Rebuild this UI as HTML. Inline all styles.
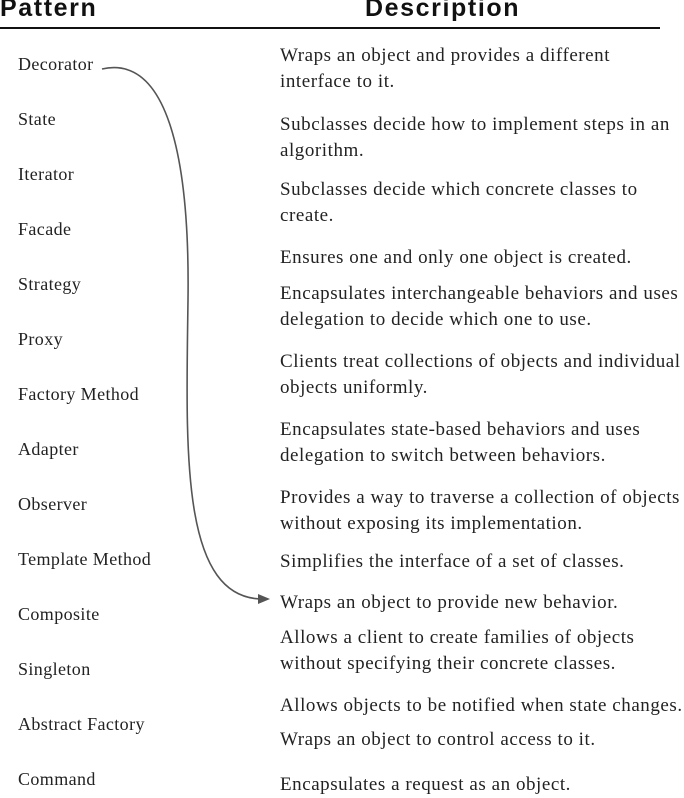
<!DOCTYPE html>
<html>
<head>
<meta charset="utf-8">
<style>
  html,body{margin:0;padding:0;background:#fff;}
  body{width:684px;height:796px;position:relative;overflow:hidden;font-family:"Liberation Serif",serif;color:#222;}
  .hdr{position:absolute;top:-6px;font-family:"Liberation Sans",sans-serif;font-weight:bold;font-size:25px;letter-spacing:1.6px;color:#111;}
  .rule{position:absolute;left:0;top:27px;width:660px;height:2px;background:#111;}
  .pat{position:absolute;left:18px;font-size:18px;line-height:20px;letter-spacing:0.4px;}
  .desc{position:absolute;left:280px;font-size:19px;line-height:26px;white-space:nowrap;letter-spacing:0.55px;}
  svg{position:absolute;left:0;top:0;}
</style>
</head>
<body>
<div class="hdr" style="left:0">Pattern</div>
<div class="hdr" style="left:365px">Description</div>
<div class="rule"></div>

<div class="pat" style="top:54px">Decorator</div>
<div class="pat" style="top:109px">State</div>
<div class="pat" style="top:164px">Iterator</div>
<div class="pat" style="top:219px">Facade</div>
<div class="pat" style="top:274px">Strategy</div>
<div class="pat" style="top:329px">Proxy</div>
<div class="pat" style="top:384px">Factory Method</div>
<div class="pat" style="top:439px">Adapter</div>
<div class="pat" style="top:494px">Observer</div>
<div class="pat" style="top:549px">Template Method</div>
<div class="pat" style="top:604px">Composite</div>
<div class="pat" style="top:659px">Singleton</div>
<div class="pat" style="top:714px">Abstract Factory</div>
<div class="pat" style="top:769px">Command</div>

<div class="desc" style="top:43px">Wraps an object and provides a different<br>interface to it.</div>
<div class="desc" style="top:112px">Subclasses decide how to implement steps in an<br>algorithm.</div>
<div class="desc" style="top:177px">Subclasses decide which concrete classes to<br>create.</div>
<div class="desc" style="top:245px">Ensures one and only one object is created.</div>
<div class="desc" style="top:281px">Encapsulates interchangeable behaviors and uses<br>delegation to decide which one to use.</div>
<div class="desc" style="top:349px">Clients treat collections of objects and individual<br>objects uniformly.</div>
<div class="desc" style="top:417px">Encapsulates state-based behaviors and uses<br>delegation to switch between behaviors.</div>
<div class="desc" style="top:485px">Provides a way to traverse a collection of objects<br>without exposing its implementation.</div>
<div class="desc" style="top:549px">Simplifies the interface of a set of classes.</div>
<div class="desc" style="top:590px">Wraps an object to provide new behavior.</div>
<div class="desc" style="top:625px">Allows a client to create families of objects<br>without specifying their concrete classes.</div>
<div class="desc" style="top:693px">Allows objects to be notified when state changes.</div>
<div class="desc" style="top:727px">Wraps an object to control access to it.</div>
<div class="desc" style="top:772px">Encapsulates a request as an object.</div>

<svg width="684" height="796">
  <path d="M102,69 C165,55 190,150 188,300 C186,450 180,598 262,599" fill="none" stroke="#555" stroke-width="1.6"/>
  <path d="M258,594 L270,599 L258,604 Z" fill="#555"/>
</svg>
</body>
</html>
